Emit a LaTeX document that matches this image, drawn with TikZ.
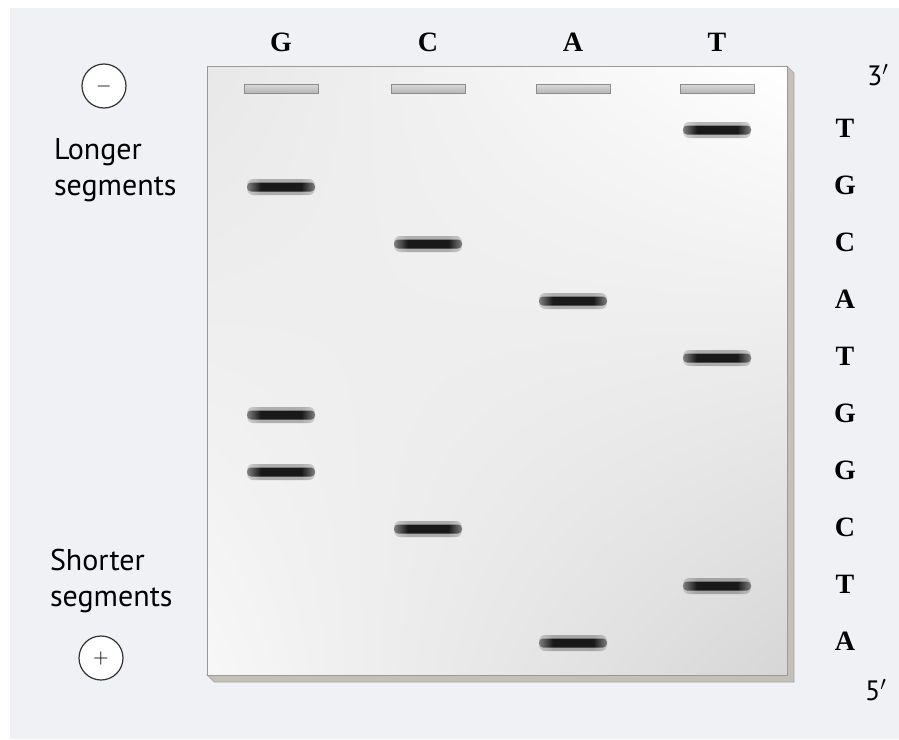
\documentclass[tikz,border=0pt]{standalone}
\usepackage{fontspec}
\setmainfont{Liberation Serif}
\setsansfont{PT Sans}
\usetikzlibrary{positioning, shadings}
\definecolor{pagebg}{HTML}{EFF1F5}
\definecolor{geledge}{HTML}{C4C0B8}
\pgfdeclarehorizontalshading{bandfade}{100bp}{color(0bp)=(white); color(25bp)=(white!50!black); color(35bp)=(black!90); color(65bp)=(black!90); color(75bp)=(white!50!black); color(100bp)=(white)}

\begin{document}
\begin{tikzpicture}[x=0.5pt, y=-0.5pt,
    base/.style={font=\bfseries\fontsize{14}{16}\selectfont},
    side/.style={font=\sffamily\fontsize{15}{18}\selectfont, align=left, anchor=west},
    sign/.style={circle, draw=black!80, line width=0.6pt, fill=white, minimum size=22pt, inner sep=0pt},
    well/.style={rectangle, draw=black!45, line width=0.4pt, top color=black!15, bottom color=black!30, minimum width=37pt, minimum height=4.5pt, inner sep=0pt},
    band/.style={rectangle, rounded corners=2pt, shading=bandfade, minimum width=34pt, minimum height=4.5pt, inner sep=0pt},
    bandglow/.style={rectangle, rounded corners=3pt, shading=bandfade, opacity=0.3, minimum width=34pt, minimum height=8pt, inner sep=0pt}]

    \useasboundingbox (0,0) rectangle (899,739);

    % Page background
    \fill[pagebg] (10,8) rectangle (899,739);

    % Gel slab with its thickness
    \fill[geledge, draw=black!35, line width=0.3pt] (787,66) -- (794,73) -- (794,682) -- (214,682) -- (207,675) -- (787,675) -- cycle;
    \shade[upper left=black!9, upper right=white, lower left=black!3, lower right=black!16] (207,66) rectangle (787,675);
    \draw[black!40, line width=0.4pt] (207,66) rectangle (787,675);

    % Lanes: label on top and loading well
    \foreach \nm/\x in {G/281, C/428, A/573, T/717} {
        \node[base] (lab\nm) at (\x,42) {\nm};
        \node[well] (well\nm) at (\x,89) {};
    }

    % Bands, one per base, shortest at the bottom
    \foreach \nm/\x/\i in {b0/717/0, b1/281/1, b2/428/2, b3/573/3, b4/717/4, b5/281/5, b6/281/6, b7/428/7, b8/717/8, b9/573/9} {
        \node[bandglow] (\nm glow) at (\x,{130+57*\i}) {};
        \node[band] (\nm) at (\x,{130+57*\i}) {};
    }

    % Sequence read from the gel
    \foreach \b [count=\i from 0] in {T,G,C,A,T,G,G,C,T,A} {
        \node[base] (seq\i) at (845,{128+57*\i}) {\b};
    }
    \node[font=\sffamily\fontsize{14}{16}\selectfont] (three) at (878,75) {3$'$};
    \node[font=\sffamily\fontsize{14}{16}\selectfont] (five) at (876,690) {5$'$};

    % Electrodes and segment labels
    \node[sign] (minus) at (104,86) {\sffamily $-$};
    \node[sign] (plus) at (101,658) {\sffamily $+$};
    \node[side] (longer) at (47,170) {Longer\\segments};
    \node[side] (shorter) at (43,581) {Shorter\\segments};

\end{tikzpicture}
\end{document}
